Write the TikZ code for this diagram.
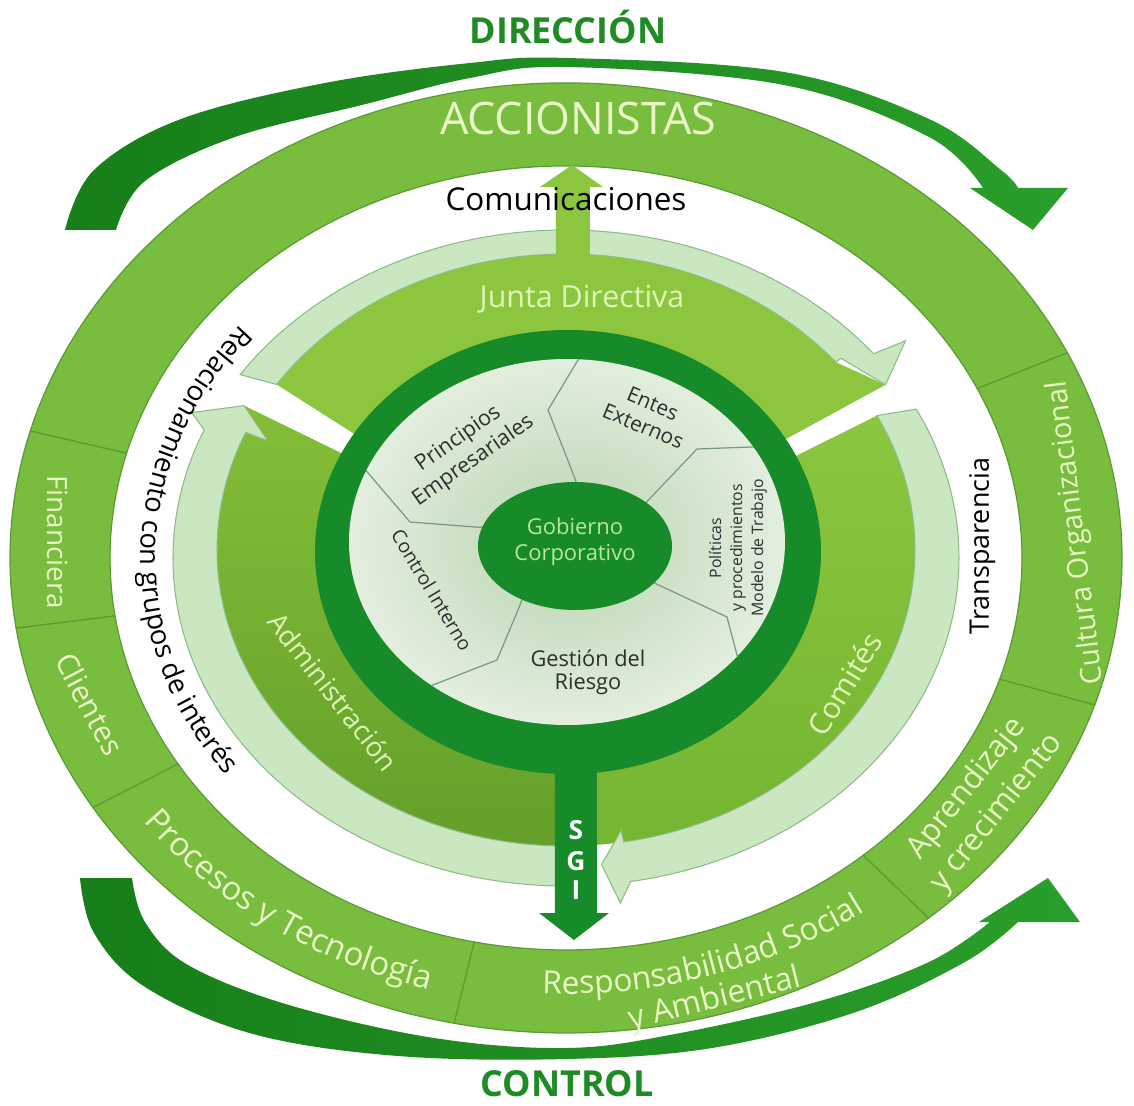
\documentclass[tikz,border=0pt]{standalone}
\usepackage{fontspec}
\setmainfont{Open Sans}
\usetikzlibrary{decorations.text}
\definecolor{band}{HTML}{79BD3F}
\definecolor{bandline}{HTML}{5A9B34}
\definecolor{junta}{HTML}{8CC63F}
\definecolor{comitesA}{HTML}{8CC63F}
\definecolor{comitesB}{HTML}{74B531}
\definecolor{adminA}{HTML}{84BE38}
\definecolor{adminB}{HTML}{64A02A}
\definecolor{pale}{HTML}{CBE7C2}
\definecolor{paleline}{HTML}{8DBB85}
\definecolor{darkring}{HTML}{178A2A}
\definecolor{swooshA}{HTML}{177E1A}
\definecolor{swooshB}{HTML}{2A9E2A}
\definecolor{titlegreen}{HTML}{1F8B24}
\definecolor{paletext}{HTML}{E9F7C6}
\definecolor{midtext}{HTML}{E0F4B8}
\definecolor{gobtext}{HTML}{B9E69B}
\definecolor{piecetext}{HTML}{2E2E2E}
\definecolor{pline}{HTML}{7A988A}
\definecolor{discin}{HTML}{B9D5AF}
\definecolor{discout}{HTML}{E3EEDF}
\newcommand\fTitle{\fontsize{20.4pt}{24pt}\selectfont\bfseries}
\newcommand\fAcc{\fontsize{25.5pt}{30pt}\selectfont}
\newcommand\fCom{\fontsize{17.9pt}{21pt}\selectfont}
\newcommand\fJun{\fontsize{17.3pt}{21pt}\selectfont}
\newcommand\fRel{\fontsize{15.6pt}{19pt}\selectfont\color{black}}
\newcommand\fTra{\fontsize{15.3pt}{19pt}\selectfont}
\newcommand\fFin{\fontsize{15.9pt}{19pt}\selectfont}
\newcommand\fCli{\fontsize{17pt}{20pt}\selectfont}
\newcommand\fPro{\fontsize{18.7pt}{22pt}\selectfont\color{paletext}}
\newcommand\fRes{\fontsize{18.1pt}{22pt}\selectfont\color{paletext}}
\newcommand\fResN{\fontsize{18.1pt}{22pt}\selectfont}
\newcommand\fApr{\fontsize{17.6pt}{22pt}\selectfont}
\newcommand\fCul{\fontsize{16.4pt}{20pt}\selectfont}
\newcommand\fAdm{\fontsize{15.5pt}{19pt}\selectfont}
\newcommand\fCmt{\fontsize{17pt}{20pt}\selectfont}
\newcommand\obsector[2]{\filldraw[outerband] (#1:556 and 475) arc[start angle=#1, end angle=#2, x radius=556, y radius=475] -- (#2:456 and 392) arc[start angle=#2, end angle=#1, x radius=456, y radius=392] -- cycle;}
\begin{document}
\begin{tikzpicture}[x=0.02cm, y=0.02cm,
  outerband/.style={fill=band, draw=bandline, line width=0.7pt},
  palearrow/.style={fill=pale, draw=paleline, line width=0.6pt},
  pieceln/.style={draw=pline, line width=0.7pt},
  piecetxt/.style={text=piecetext, align=center, inner sep=0pt},
  lbl/.style={anchor=base, inner sep=0pt},
  txtpath/.style={decorate, decoration={text along path, text align=center, text={#1}}}]

\useasboundingbox (-566,-548) rectangle (568,558);
\fill[white] (-566,-548) rectangle (568,558);

% swoosh arrows
\shade[left color=swooshA, right color=swooshB] plot[smooth, tension=0.6] coordinates {(-501,328) (-472,388) (-385,439) (-241,475) (-96,495) (1,500) (218,486) (363,439) (435,388) (452,370)} -- (502,370) -- (467,328) -- (404,370) -- (417,370) -- plot[smooth, tension=0.6] coordinates {(417,370) (363,421) (218,473) (1,491) (-96,480) (-204,453) (-331,421) (-421,377) (-450,328)} -- cycle;
\shade[left color=swooshA, right color=swooshB] plot[smooth, tension=0.6] coordinates {(-486,-320) (-472,-375) (-421,-429) (-313,-476) (-168,-498) (1,-501) (146,-490) (290,-454) (399,-404) (452,-364)} -- (514,-364) -- (482,-320) -- (413,-364) -- (424,-364) -- plot[smooth, tension=0.6] coordinates {(424,-364) (363,-404) (254,-443) (109,-476) (1,-490) (-132,-480) (-277,-447) (-378,-407) (-421,-364) (-434,-320)} -- cycle;

\node[font=\fTitle, text=titlegreen, lbl] (dir) at (2,514) {DIRECCIÓN};
\node[font=\fTitle, text=titlegreen, lbl] (ctl) at (1,-538) {CONTROL};

% outer band
\obsector{25.6}{164.5}
\obsector{164.5}{188.5}
\obsector{188.5}{211.7}
\obsector{211.7}{258.4}
\obsector{258.4}{310.7}
\obsector{310.7}{342}
\obsector{342}{385.6}

% middle ring: green bands
\fill[junta] (146:245 and 212) -- ([shift={(0,8)}]146:349 and 296) arc[start angle=146, end angle=39.4, x radius=349, y radius=296] -- (33:381 and 318) -- (32:245 and 212) arc[start angle=32, end angle=146, x radius=245, y radius=212] -- cycle;
\shade[top color=comitesA, bottom color=comitesB] (27:245 and 212) -- ([shift={(0,8)}]27:349 and 296) arc[start angle=27, end angle=-86, x radius=349, y radius=296] -- (-86:245 and 212) arc[start angle=-86, end angle=27, x radius=245, y radius=212] -- cycle;
\shade[top color=adminA, bottom color=adminB] (270:245 and 212) -- ([shift={(0,8)}]270:349 and 296) arc[start angle=270, end angle=156.6, x radius=349, y radius=296] -- ([shift={(0,4)}]151.3:367 and 309) -- (151.7:245 and 212) arc[start angle=151.7, end angle=270, x radius=245, y radius=212] -- cycle;

% pale arrows
\filldraw[palearrow] ([shift={(0,8)}]146:349 and 296) -- (146:393 and 328) arc[start angle=146, end angle=38.5, x radius=393, y radius=328] -- (37.5:428 and 357) -- (33:381 and 318) -- ([shift={(0,8)}]39.4:356 and 302) -- ([shift={(0,8)}]39.4:349 and 296) arc[start angle=39.4, end angle=146, x radius=349, y radius=296] -- cycle;
\filldraw[palearrow] ([shift={(0,8)}]27:349 and 296) -- (27:393 and 328) arc[start angle=27, end angle=-80.5, x radius=393, y radius=328] -- (-82.5:417 and 348) -- ([shift={(0,4)}]-84.5:371 and 312) -- ([shift={(0,8)}]-80.5:335 and 284) -- ([shift={(0,8)}]-80.5:349 and 296) arc[start angle=-80.5, end angle=27, x radius=349, y radius=296] -- cycle;
\filldraw[palearrow] ([shift={(0,8)}]270:349 and 296) -- (270:393 and 328) arc[start angle=270, end angle=157, x radius=393, y radius=328] -- (155:413 and 344) -- ([shift={(0,4)}]151.3:367 and 309) -- ([shift={(0,8)}]156.6:325 and 275) -- ([shift={(0,8)}]156.6:349 and 296) arc[start angle=156.6, end angle=270, x radius=349, y radius=296] -- cycle;

% Comunicaciones arrow
\fill[junta] (-10,290) -- (-10,371) -- (-26,371) -- (6,393) -- (37,371) -- (24,371) -- (24,290) -- cycle;

% dark ring and disc
\fill[darkring] (2,6) ellipse [x radius=253, y radius=222];
\shade[inner color=discin, outer color=discout] (1,16) ellipse [x radius=218, y radius=183];
\begin{scope}
\clip (1,16) ellipse [x radius=218, y radius=183];
\draw[pieceln] (14,66) -- (1,100) -- (-18,148) -- (21,213);
\draw[pieceln] (72,47) -- (92,68) -- (131,109) -- (212,112);
\draw[pieceln] (80,-21) -- (99,-30) -- (161,-59) -- (181,-135);
\draw[pieceln] (-42,-37) -- (-48,-52) -- (-69,-102) -- (-151,-134);
\draw[pieceln] (-72,30) -- (-91,31) -- (-156,36) -- (-209,98);
\end{scope}
\fill[darkring] (9,12) ellipse [x radius=97, y radius=64];

% SGI arrow
\fill[darkring] (-11,-190) -- (31,-190) -- (31,-355) -- (43,-355) -- (8,-382) -- (-27,-355) -- (-11,-355) -- cycle;
\node[font=\fontsize{15pt}{16pt}\selectfont\bfseries, text=white, inner sep=0pt] (sgis) at (10,-272) {S};
\node[font=\fontsize{15pt}{16pt}\selectfont\bfseries, text=white, inner sep=0pt] (sgig) at (10,-303) {G};
\node[font=\fontsize{15pt}{16pt}\selectfont\bfseries, text=white, inner sep=0pt] (sgii) at (10,-332) {I};

% inner texts
\node[piecetxt, font=\fontsize{12.5pt}{15pt}\selectfont, text=gobtext] (gob) at (9,16) {Gobierno\\Corporativo};
\node[piecetxt, font=\fontsize{12.3pt}{15pt}\selectfont, rotate=35] (prin) at (-100,108) {Principios\\Empresariales};
\node[piecetxt, font=\fontsize{11.9pt}{14pt}\selectfont, rotate=-23] (entes) at (82,143) {Entes\\Externos};
\node[piecetxt, font=\fontsize{9pt}{11.9pt}\selectfont, rotate=90] (pol) at (172,10) {Políticas\\y procedimientos\\Modelo de Trabajo};
\node[piecetxt, font=\fontsize{11pt}{13pt}\selectfont, rotate=-59] (ctrl) at (-134,-32) {Control Interno};
\node[piecetxt, font=\fontsize{12.4pt}{13pt}\selectfont] (gest) at (22,-114) {Gestión del\\Riesgo};

% straight labels
\node[lbl, font=\fAcc, text=paletext] (acc) at (12,423) {ACCIONISTAS};
\node[lbl, font=\fCom, text=black] (com) at (0,347) {Comunicaciones};
\node[lbl, font=\fJun, text=midtext] (jun) at (16,250) {Junta Directiva};
\node[lbl, font=\fTra, text=black, rotate=90] (tra) at (423,12) {Transparencia};
\node[lbl, font=\fFin, text=paletext, rotate=-90] (fin) at (-518,16) {Financiera};
\node[lbl, font=\fCli, text=paletext, rotate=-62] (cli) at (-486,-151) {Clientes};
\node[lbl, font=\fCmt, text=midtext, rotate=58.5] (cmt) at (288,-132) {Comités};
\node[lbl, font=\fAdm, text=midtext, rotate=-52] (adm) at (-241,-140) {Administración};
\node[font=\fApr, text=paletext, rotate=51.4, align=center, inner sep=0pt] (apr) at (416,-243) {Aprendizaje\\y crecimiento};
\node[lbl, font=\fResN, text=paletext, rotate=14] (amb) at (151,-450) {y Ambiental};
\node[lbl, font=\fCul, text=paletext, rotate=97] (cul) at (518,26) {Cultura Organizacional};

% curved labels
\path[txtpath={|\fRel|Relacionamiento con grupos de interés}] (118.5:425 and 362) arc[start angle=118.5, end angle=238.5, x radius=425, y radius=362];
\path[txtpath={|\fPro|Procesos y Tecnología}] (199.6:523 and 447) arc[start angle=199.6, end angle=269.6, x radius=523, y radius=447];
\path[txtpath={|\fRes|Responsabilidad Social}] (249.7:510 and 436) arc[start angle=249.7, end angle=324.7, x radius=510, y radius=436];
\end{tikzpicture}
\end{document}
